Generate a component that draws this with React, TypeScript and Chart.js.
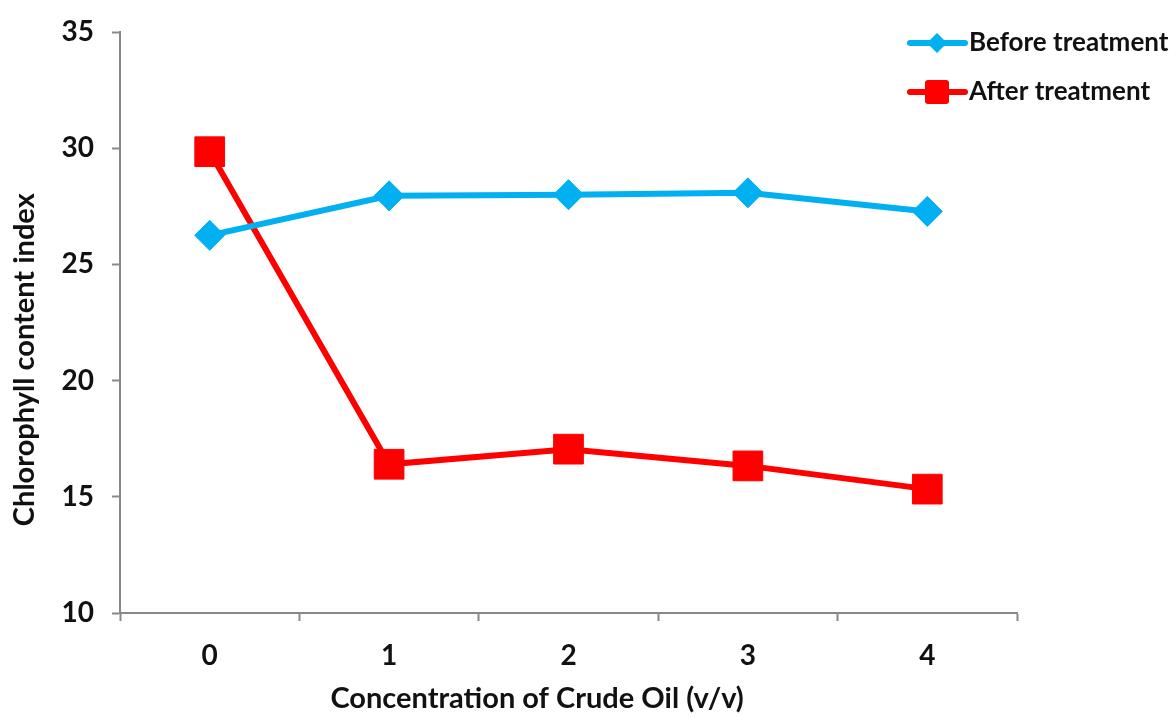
import React, { useEffect, useRef } from "react";
import { Chart, registerables } from "chart.js";

Chart.register(...registerables);

const categories = ["0", "1", "2", "3", "4"];
const beforeTreatment = [26.25, 27.95, 28.0, 28.08, 27.28];
const afterTreatment = [29.85, 16.4, 17.05, 16.33, 15.33];
const seriesNames = ["Before treatment", "After treatment"];
const yTitle = "Chlorophyll content index";
const xTitle = "Concentration of Crude Oil (v/v)";

const FONT = "Lato, 'Open Sans', sans-serif";
const BLUE = "#00B0F0";
const RED = "#FF0000";

function diamond(ctx: CanvasRenderingContext2D, x: number, y: number, r: number) {
  ctx.beginPath();
  ctx.moveTo(x, y - r);
  ctx.lineTo(x + r, y);
  ctx.lineTo(x, y + r);
  ctx.lineTo(x - r, y);
  ctx.closePath();
}

function roundSquare(ctx: CanvasRenderingContext2D, x: number, y: number, h: number, c: number) {
  ctx.beginPath();
  ctx.moveTo(x - h + c, y - h);
  ctx.lineTo(x + h - c, y - h);
  ctx.quadraticCurveTo(x + h, y - h, x + h, y - h + c);
  ctx.lineTo(x + h, y + h - c);
  ctx.quadraticCurveTo(x + h, y + h, x + h - c, y + h);
  ctx.lineTo(x - h + c, y + h);
  ctx.quadraticCurveTo(x - h, y + h, x - h, y + h - c);
  ctx.lineTo(x - h, y - h + c);
  ctx.quadraticCurveTo(x - h, y - h, x - h + c, y - h);
  ctx.closePath();
}

const customPlugin = {
  id: "customDecor",
  afterDraw(chart: any) {
    const ctx: CanvasRenderingContext2D = chart.ctx;
    const ca = chart.chartArea;
    ctx.save();
    // axis titles
    ctx.fillStyle = "#111";
    ctx.font = `bold 29px ${FONT}`;
    ctx.textAlign = "center";
    ctx.textBaseline = "middle";
    ctx.fillText(xTitle, ca.left + (ca.right - ca.left) * 0.465, chart.height - 18);
    ctx.save();
    ctx.translate(25, ca.top + (ca.bottom - ca.top) * 0.564);
    ctx.rotate(-Math.PI / 2);
    ctx.fillText(yTitle, 0, 0);
    ctx.restore();

    // legend
    const lx = chart.width - 265;
    chart.data.datasets.forEach((ds: any, i: number) => {
      const y = 43 + i * 49;
      ctx.strokeStyle = ds.borderColor;
      ctx.lineWidth = 6;
      ctx.lineCap = "round";
      ctx.beginPath();
      ctx.moveTo(lx, y);
      ctx.lineTo(lx + 55, y);
      ctx.stroke();
      ctx.fillStyle = ds.borderColor;
      if (i === 0) {
        diamond(ctx, lx + 27, y, 10);
      } else {
        roundSquare(ctx, lx + 27, y, 12, 3);
      }
      ctx.fill();
      ctx.fillStyle = "#111";
      ctx.textAlign = "left";
      ctx.textBaseline = "middle";
      ctx.font = `bold 26px ${FONT}`;
      ctx.fillText(ds.label, lx + 59, y);
    });
    ctx.restore();
  },
};

export default function App() {
  const ref = useRef<HTMLCanvasElement>(null);

  useEffect(() => {
    if (!ref.current) return;
    const chart = new Chart(ref.current, {
      type: "line",
      data: {
        labels: categories,
        datasets: [
          {
            label: seriesNames[0],
            data: beforeTreatment,
            borderColor: BLUE,
            backgroundColor: BLUE,
            borderWidth: 6,
            pointStyle: "rectRot",
            pointRadius: 15,
            pointBorderWidth: 1,
            pointBackgroundColor: BLUE,
            pointBorderColor: BLUE,
            tension: 0,
          },
          {
            label: seriesNames[1],
            data: afterTreatment,
            borderColor: RED,
            backgroundColor: RED,
            borderWidth: 6,
            pointStyle: "rect",
            pointRadius: 21,
            pointBorderWidth: 1,
            pointBackgroundColor: RED,
            pointBorderColor: RED,
            tension: 0,
          },
        ],
      },
      options: {
        animation: false,
        responsive: true,
        maintainAspectRatio: false,
        layout: { padding: { top: 28, right: 158, left: 0, bottom: 0 } },
        plugins: {
          legend: { display: false },
          tooltip: { enabled: false },
        },
        scales: {
          x: {
            type: "category",
            offset: true,
            grid: {
              display: true,
              offset: true,
              drawOnChartArea: false,
              drawTicks: true,
              tickLength: 8,
              tickWidth: 2,
              tickColor: "#888",
            },
            border: { display: true, color: "#888", width: 2 },
            ticks: {
              color: "#111",
              padding: 18,
              font: { family: FONT, size: 28, weight: "bold" },
            },
            afterFit: (s: any) => {
              s.height = 104;
            },
          },
          y: {
            min: 10,
            max: 35,
            ticks: {
              stepSize: 5,
              color: "#111",
              padding: 18,
              font: { family: FONT, size: 28, weight: "bold", lineHeight: 1.0 },
            },
            grid: {
              display: true,
              drawOnChartArea: false,
              drawTicks: true,
              tickLength: 8,
              tickWidth: 2,
              tickColor: "#888",
            },
            border: { display: true, color: "#888", width: 2 },
            afterFit: (s: any) => {
              s.width = 120;
            },
          },
        },
      },
      plugins: [customPlugin],
    });
    return () => chart.destroy();
  }, []);

  return (
    <div style={{ position: "fixed", left: 0, top: 0, width: 1175, height: 717, background: "#fff" }}>
      <canvas ref={ref} />
    </div>
  );
}
